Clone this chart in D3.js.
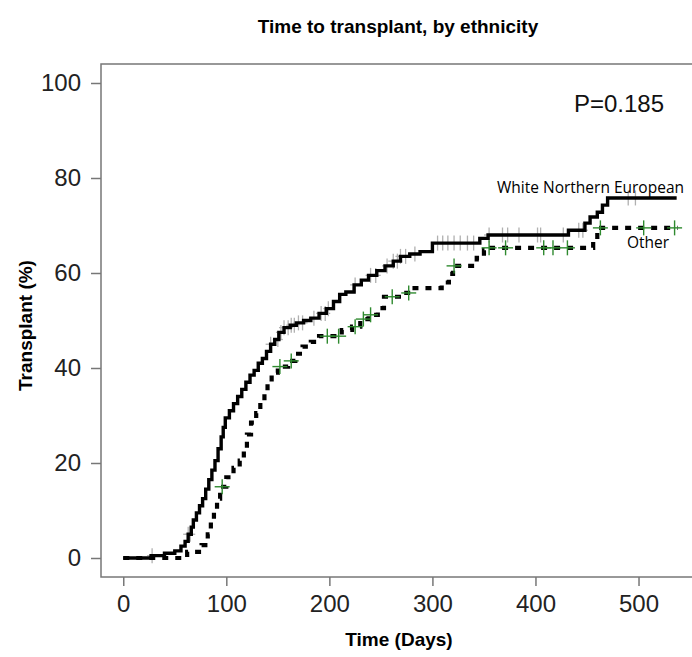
<!DOCTYPE html>
<html>
<head>
<meta charset="utf-8">
<script src="https://cdn.jsdelivr.net/npm/d3@7"></script>
<style>
  body { margin: 0; padding: 0; background: #fff; }
  svg { display: block; font-family: 'Liberation Sans', Arial, sans-serif; }
</style>
</head>
<body>
<svg id="chart" width="692" height="657"></svg>
<script>
// step points of the two Kaplan-Meier type curves (days, % transplanted)
const wneDays = [0, 27, 40, 50, 56, 60, 63, 66, 68, 71, 74, 77, 80, 83, 86, 89, 92, 95, 97, 99,
  103, 107, 111, 115, 119, 123, 127, 131, 135, 139, 143, 147, 151, 156, 162, 168, 175, 182, 190,
  197, 204, 210, 216, 224, 231, 238, 246, 254, 262, 269, 278, 288, 300, 346, 354, 432, 448, 453,
  460, 465, 470]
const wnePct = [0, 0.5, 1, 1.5, 2.5, 3.5, 5, 6.5, 8, 9.5, 11, 12.5, 14.5, 16.5, 18.5, 20.5, 23, 25.5, 27.5, 29.5,
  31, 32.5, 34, 35.5, 37, 38.5, 39.5, 41, 42, 43.5, 45, 46, 47.5, 48.5, 49, 49.5, 50, 50.5, 51.5,
  52.5, 54, 55.5, 56, 57.5, 58.5, 59.5, 60.5, 61.5, 62.5, 63.5, 64, 64.5, 66.3, 67.3, 68, 69, 70.5, 71.8,
  72.8, 74.3, 75.8]
const wneLast = 537

const otherDays = [0, 62, 76, 82, 85, 88, 91, 94, 100, 107, 113, 117, 120, 124, 129, 133, 137, 140,
  144, 150, 160, 167, 174, 182, 190, 212, 222, 230, 238, 247, 253, 270, 279, 309, 316, 320, 343,
  350, 354, 456, 460]
const otherPct = [0, 1.3, 2.7, 5, 8, 10, 12.5, 15, 17, 19, 20.5, 23, 26, 28.5, 30.5, 33, 35, 37,
  39, 40.3, 41.5, 43, 44.5, 45.5, 46.7, 48, 48.7, 50.3, 51.2, 52.6, 55, 55.8, 56.8, 58, 59.8, 61.5, 63.2,
  64.8, 65.3, 67, 69.5]
const otherLast = 538

// censoring times
const wneCensor = [28, 63, 65, 143, 150, 153, 156, 160, 163, 166, 170, 174, 185, 192, 196, 199,
  225, 240, 245, 256, 262, 266, 269, 274, 283, 305, 310, 315, 321, 327, 334, 340, 355, 368, 373,
  384, 402, 405, 427, 442, 446, 490, 497]
const otherCensor = [96, 152, 163, 198, 209, 225, 233, 240, 261, 277, 321, 355, 371, 408, 417,
  431, 463, 505, 535]

const xTicks = [0, 100, 200, 300, 400, 500]
const yTicks = [0, 20, 40, 60, 80, 100]

const svg = d3.select('#chart')

const x = d3.scaleLinear().domain([-21.6, 561.6]).range([101, 702])
const y = d3.scaleLinear().domain([-4, 104]).range([577, 64])

// frame
svg.append('rect')
  .attr('x', x(-21.6)).attr('y', y(104))
  .attr('width', x(561.6) - x(-21.6)).attr('height', y(-4) - y(104))
  .attr('fill', 'none').attr('stroke', '#777').attr('stroke-width', 1.5)

const xAxis = svg.append('g')
  .attr('transform', `translate(0, ${y(-4)})`)
  .call(d3.axisBottom(x).tickValues(xTicks).tickSize(9).tickPadding(9))
const yAxis = svg.append('g')
  .attr('transform', `translate(${x(-21.6)}, 0)`)
  .call(d3.axisLeft(y).tickValues(yTicks).tickSize(10).tickPadding(10))

for (const ax of [xAxis, yAxis]) {
  ax.select('.domain').remove()
  ax.selectAll('.tick line').attr('stroke', '#777').attr('stroke-width', 1.5)
  ax.selectAll('.tick text')
    .attr('fill', '#222')
    .style('font-size', '24px')
    .style('font-family', "'Liberation Sans', Arial, sans-serif")
}

const stepLine = d3.line()
  .x(d => x(d[0]))
  .y(d => y(d[1]))
  .curve(d3.curveStepAfter)

function pts (days, pct, last) {
  const p = days.map((d, i) => [d, pct[i]])
  p.push([last, pct[pct.length - 1]])
  return p
}

function valueAt (days, pct, t) {
  const i = d3.bisectRight(days, t) - 1
  return pct[Math.max(0, i)]
}

const cross = (g, days, pct, times, color, w, h, sw) => {
  const m = g.selectAll(null).data(times).enter().append('g')
    .attr('transform', t => `translate(${x(t)}, ${y(valueAt(days, pct, t))})`)
  m.append('line').attr('x1', -w / 2).attr('x2', w / 2)
    .attr('stroke', color).attr('stroke-width', sw)
  m.append('line').attr('y1', -h / 2).attr('y2', h / 2)
    .attr('stroke', color).attr('stroke-width', sw)
}

// grey censor marks sit under the solid line
cross(svg.append('g'), wneDays, wnePct, wneCensor, '#b0b0b0', 10, 15, 1.3)

svg.append('path')
  .datum(pts(wneDays, wnePct, wneLast))
  .attr('d', stepLine)
  .attr('fill', 'none')
  .attr('stroke', '#000')
  .attr('stroke-width', 3.4)

svg.append('path')
  .datum(pts(otherDays, otherPct, otherLast))
  .attr('d', stepLine)
  .attr('fill', 'none')
  .attr('stroke', '#000')
  .attr('stroke-width', 4.2)
  .attr('stroke-dasharray', '6,7')

cross(svg.append('g'), otherDays, otherPct, otherCensor, '#2f8a2f', 15, 15, 1.4)

// titles
svg.append('text')
  .attr('x', 398).attr('y', 33)
  .attr('text-anchor', 'middle')
  .style('font-size', '19px').style('font-weight', 'bold')
  .text('Time to transplant, by ethnicity')

svg.append('text')
  .attr('x', 399).attr('y', 646)
  .attr('text-anchor', 'middle')
  .style('font-size', '19px').style('font-weight', 'bold')
  .text('Time (Days)')

svg.append('text')
  .attr('transform', `translate(32, ${(y(-4) + y(104)) / 2 + 5}) rotate(-90)`)
  .attr('text-anchor', 'middle')
  .style('font-size', '19px').style('font-weight', 'bold')
  .text('Transplant (%)')

svg.append('text')
  .attr('x', 664).attr('y', 112)
  .attr('text-anchor', 'end')
  .style('font-size', '24px')
  .attr('fill', '#111')
  .text('P=0.185')

svg.append('text')
  .attr('x', 497).attr('y', 193)
  .style('font-family', "'Open Sans', sans-serif")
  .style('font-size', '15.5px')
  .text('White Northern European')

svg.append('text')
  .attr('x', 627).attr('y', 248)
  .style('font-family', "'Open Sans', sans-serif")
  .style('font-size', '15.5px')
  .text('Other')
</script>
</body>
</html>
